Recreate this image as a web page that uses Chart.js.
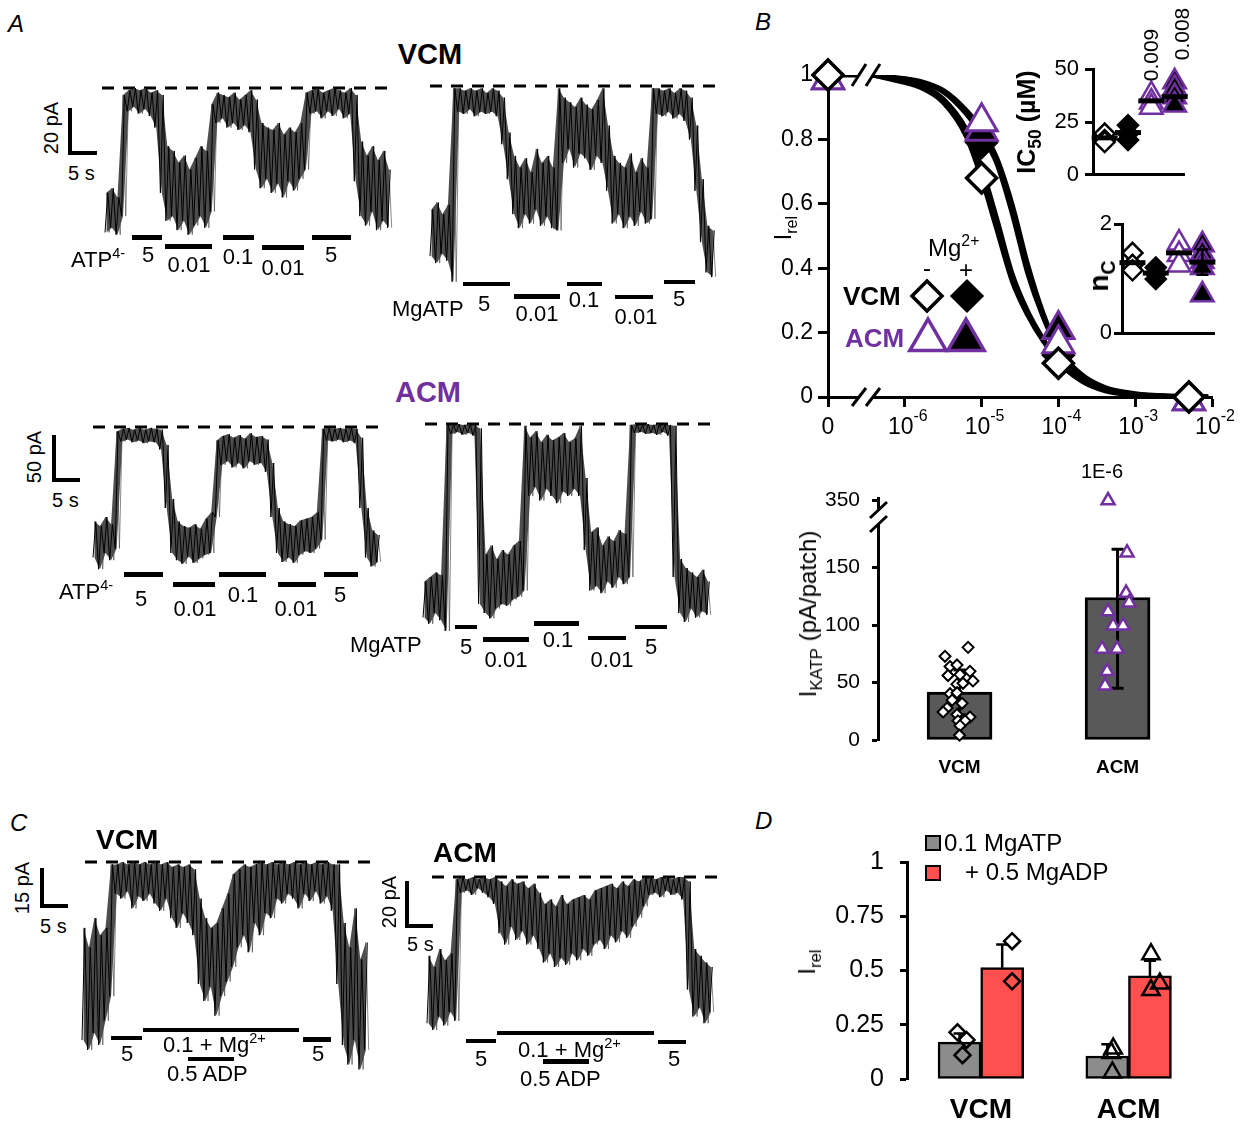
<!DOCTYPE html>
<html>
<head>
<meta charset="utf-8">
<script src="https://cdn.jsdelivr.net/npm/chart.js@4.4.1/dist/chart.umd.min.js"></script>
<style>
  html, body { margin: 0; padding: 0; background: #fff; }
  #fig { position: relative; width: 1250px; height: 1124px; overflow: hidden;
         font-family: "Liberation Sans", Arial, sans-serif; color: #000; }
  #fig canvas { position: absolute; }
  .lbl { position: absolute; line-height: 1; white-space: nowrap; }
  .bar { position: absolute; background: #000; }
  .sup { font-size: .66em; position: relative; top: -.62em; }
  .sub { font-size: .7em; position: relative; top: .35em; }
</style>
</head>
<body>
<div id="fig"></div>
<script>
// ---------------- data ----------------
// Current traces (panels A and C): lower / upper edge of the noise band, pA, one value per 1 s bin
const vcmAtpLo = [3,5,2,10,55,57,54,56,53,48,20,8,10,4,8,2,6,10,5,12,50,52,48,50,47,49,46,30,22,26,20,24,18,25,21,26,30,54,55,52,55,53,56,52,54,25,10,6,12,4,8,5];
const vcmAtpHi = [20,22,18,62,64,65,64,65,63,64,62,40,38,33,36,30,35,40,38,58,63,62,61,63,60,62,64,60,50,48,47,50,45,48,46,50,63,64,65,63,64,65,64,63,65,62,42,36,40,34,38,30];
const vcmAtpOpen = 65;

const vcmMgAtpLo = [2,-1,3,0,-9,64,63,65,62,64,63,64,62,50,35,20,14,20,16,22,15,19,14,13,42,48,40,46,44,39,45,42,30,16,20,14,19,15,21,16,18,63,62,64,61,63,60,52,30,8,-5,-7];
const vcmMgAtpHi = [22,25,20,24,74,74,73,74,73,74,72,74,73,70,55,45,40,44,38,48,42,45,40,74,70,68,66,70,67,65,69,74,58,45,42,40,46,38,44,40,74,74,73,74,72,74,73,70,58,35,15,13];
const vcmMgAtpOpen = 75;

const acmAtpLo = [5,-8,10,2,15,134,136,133,135,132,134,133,125,60,10,2,-2,6,-1,4,8,10,50,108,112,105,110,104,112,108,110,100,50,10,0,5,-1,8,12,10,15,25,135,134,136,133,135,132,60,5,-5,0];
const acmAtpHi = [45,40,50,42,145,148,149,147,149,147,149,148,147,130,70,45,40,38,42,37,48,55,135,140,142,138,141,137,143,139,140,136,110,60,45,42,40,46,48,50,55,148,149,148,149,148,149,148,138,60,35,30];
const acmAtpOpen = 150;

const acmMgAtpLo = [15,8,20,12,0,219,221,218,220,217,30,20,14,25,30,28,35,38,45,150,160,145,158,150,142,155,150,158,150,90,45,50,42,55,48,60,52,60,220,221,219,220,218,221,217,60,20,10,25,15,22,18];
const acmMgAtpHi = [55,60,65,62,229,229,230,229,230,229,225,85,95,80,90,85,95,100,228,215,222,210,218,212,215,220,210,214,228,170,110,115,95,105,100,112,108,229,230,229,230,229,230,229,229,228,80,70,65,60,68,55];
const acmMgAtpOpen = 230;

const vcmAdpLo = [12,8,15,10,20,30,72,70,73,66,71,69,72,68,65,70,62,58,64,60,55,35,28,34,22,30,36,42,50,55,48,60,55,64,62,70,68,72,70,66,72,69,73,68,71,65,35,10,2,12,0,8];
const vcmAdpHi = [58,50,62,55,58,84,84,85,84,85,84,85,84,85,84,85,83,84,83,84,82,70,62,58,60,66,72,80,82,84,83,84,85,84,85,84,85,84,85,84,85,84,85,84,85,84,84,60,50,66,45,52];
const vcmAdpOpen = 85;

const acmAdpLo = [5,2,8,4,10,6,63,64,62,65,63,61,58,45,40,48,42,46,40,44,38,32,36,30,34,31,36,33,38,35,40,42,38,44,41,46,43,48,52,57,62,63,61,64,62,63,60,20,8,12,5,10];
const acmAdpHi = [35,30,38,33,36,69,70,69,70,69,70,69,70,68,66,69,67,68,65,67,63,58,60,57,62,58,60,61,62,60,64,65,66,67,65,68,66,69,68,70,70,69,70,70,69,70,70,68,38,35,32,30];
const acmAdpOpen = 70;

// Panel B: ATP concentration-response (M, 0 = control)
const atpConc = [0, 1e-5, 1e-4, 5e-3];
const irelVcmMinus = [1, 0.68, 0.105, 0];
const irelVcmPlus  = [1, 0.79, 0.13, 0];
const irelAcmMinus = [0.985, 0.855, 0.165, -0.012];
const irelAcmPlus  = [0.985, 0.825, 0.21, -0.012];
// fitted curves (log10 [ATP])
const fitLogConc   = [-6.41, -6.2, -5.8, -5.5, -5.2, -5.0, -4.8, -4.6, -4.4, -4.2, -4.0, -3.7, -3.4, -3.0, -2.5, -2.05];
const fitVcmMinus  = [1.0, 0.988, 0.962, 0.915, 0.81, 0.68, 0.52, 0.36, 0.255, 0.175, 0.115, 0.055, 0.025, 0.008, 0.002, 0];
const fitVcmPlus   = [1.0, 0.99, 0.968, 0.925, 0.83, 0.71, 0.55, 0.38, 0.265, 0.18, 0.11, 0.05, 0.02, 0.006, 0.001, 0];
const fitAcmMinus  = [1.0, 0.993, 0.978, 0.948, 0.88, 0.815, 0.725, 0.57, 0.385, 0.25, 0.15, 0.07, 0.03, 0.01, 0.002, 0];
const fitAcmPlus   = [1.0, 0.994, 0.98, 0.952, 0.89, 0.83, 0.74, 0.595, 0.41, 0.26, 0.15, 0.065, 0.026, 0.008, 0.001, 0];

// Panel B insets: IC50 (uM) and nC, groups VCM-, VCM+, ACM-, ACM+
const ic50VcmMinus = [19.5, 16.5, 15.5];
const ic50VcmPlus  = [23.5, 19.5, 16.5];
const ic50AcmMinus = [38, 34.5, 32];
const ic50AcmPlus  = [44, 41, 37, 33];
const ic50Mean     = [17.5, 20, 35, 37];
const ic50P        = ['', '', '0.009', '0.008'];
const ncVcmMinus = [1.47, 1.25, 1.15];
const ncVcmPlus  = [1.2, 1.09, 0.99];
const ncAcmMinus = [1.65, 1.44, 1.25];
const ncAcmPlus  = [1.62, 1.47, 1.31, 1.2, 0.70];
const ncMean     = [1.29, 1.1, 1.47, 1.3];
const ncSem      = [0, 0, 0, 0.23];

// Panel B lower: KATP current density (pA/patch)
const ikatpVcm  = [80.6,72.8,63.9,65.3,59.7,56.1,56.9,51.4,48.6,49.4,40.3,41.1,31.9,27.8,24.4,22.2,20,16.7,16.7,12.5,4.2,34.7];
const ikatpAcm  = [350,163,127.8,119.4,111.7,99.4,99.4,79.2,79.2,59.7,47.2];
const ikatpMean = [41.7, 124];
const ikatpLow  = [22, 45];
const ikatpHigh = [61, 166];

// Panel D: Irel with 0.1 MgATP and + 0.5 MgADP
const groups     = ['VCM', 'ACM'];
const irelMgAtp  = [0.17, 0.106];
const irelMgAdp  = [0.513, 0.475];
const errMgAtp   = [0.04, 0.054];
const errMgAdp   = [0.107, 0.07];
const dVcmAtpPts = [0.215, 0.18, 0.11];
const dVcmAdpPts = [0.635, 0.45];
const dAcmAtpPts = [0.14, 0.12, 0.03];
const dAcmAdpPts = [0.575, 0.41, 0.44];

// ---------------- layout helpers ----------------
const PURPLE = '#7030a0';
const FONT = '"Liberation Sans", Arial, sans-serif';
Chart.defaults.font.family = FONT;
Chart.defaults.color = '#000';

const fig = document.getElementById('fig');

function canvasAt(L, T, W, H) {
  const c = document.createElement('canvas');
  c.width = W; c.height = H;
  c.style.left = L + 'px'; c.style.top = T + 'px';
  c.style.width = W + 'px'; c.style.height = H + 'px';
  fig.appendChild(c);
  return c;
}

function txt(html, x, base, size, o) {
  o = o || {};
  const d = document.createElement('div');
  d.className = 'lbl';
  d.innerHTML = html;
  d.style.fontSize = size + 'px';
  d.style.left = x + 'px';
  d.style.top = (base - 0.85 * size) + 'px';
  if (o.bold) d.style.fontWeight = 'bold';
  if (o.italic) d.style.fontStyle = 'italic';
  if (o.color) d.style.color = o.color;
  if (o.align === 'center') d.style.transform = 'translateX(-50%)';
  if (o.align === 'right') d.style.transform = 'translateX(-100%)';
  fig.appendChild(d);
}

function vtxt(html, cx, cy, size, o) {
  o = o || {};
  const d = document.createElement('div');
  d.className = 'lbl';
  d.innerHTML = html;
  d.style.fontSize = size + 'px';
  d.style.left = cx + 'px';
  d.style.top = cy + 'px';
  d.style.transform = 'translate(-50%,-50%) rotate(-90deg)';
  if (o.bold) d.style.fontWeight = 'bold';
  fig.appendChild(d);
}

function rect(x1, y1, x2, y2) {
  const d = document.createElement('div');
  d.className = 'bar';
  d.style.left = x1 + 'px'; d.style.top = y1 + 'px';
  d.style.width = (x2 - x1) + 'px'; d.style.height = (y2 - y1) + 'px';
  fig.appendChild(d);
}

const base = {
  responsive: false, animation: false, devicePixelRatio: 1, events: [],
  plugins: { legend: { display: false }, tooltip: { enabled: false } }
};

function sym(ctx, style, r, x, y, fill, stroke, lw) {
  ctx.save();
  ctx.fillStyle = fill; ctx.strokeStyle = stroke; ctx.lineWidth = lw;
  Chart.helpers.drawPoint(ctx, { pointStyle: style, radius: r, borderWidth: lw, rotation: 0 }, x, y);
  ctx.restore();
}

const dec = n => v => String(Math.round(v * n) / n);

// ---------------- current traces ----------------
function traceChart(lo, hi, open, lay) {
  const cv = canvasAt(lay.L, lay.T, lay.W, lay.H);
  const zig = [], zag = [], loLine = [], hiLine = [];
  lo.forEach((v, i) => {
    zig.push({ x: i, y: v }, { x: i + 0.5, y: hi[i] });
    zag.push({ x: i + 0.25, y: hi[i] }, { x: i + 0.75, y: v });
    loLine.push({ x: i + 0.25, y: v });
    hiLine.push({ x: i + 0.25, y: hi[i] });
  });
  const s = lay.binPx;
  new Chart(cv, {
    type: 'line',
    data: { datasets: [
      { data: zig, borderColor: '#000', borderWidth: 1, pointRadius: 0, tension: 0 },
      { data: zag, borderColor: 'rgba(70,70,70,0.8)', borderWidth: 0.8, pointRadius: 0, tension: 0 },
      { data: hiLine, borderColor: 'rgba(0,0,0,0)', pointRadius: 0, fill: '+1', backgroundColor: 'rgba(10,10,10,0.72)' },
      { data: loLine, borderColor: 'rgba(0,0,0,0)', pointRadius: 0 },
      { data: [{ x: (lay.d0 - lay.x0) / s, y: open }, { x: (lay.d1 - lay.x0) / s, y: open }],
        borderColor: '#000', borderWidth: 3, borderDash: [12, 9], pointRadius: 0 }
    ]},
    options: Object.assign({}, base, {
      layout: { padding: 0 },
      scales: {
        x: { type: 'linear', display: false, min: (lay.L - lay.x0) / s, max: (lay.L + lay.W - lay.x0) / s },
        y: { display: false, min: open - (lay.T + lay.H - lay.yDash) / lay.k, max: open + (lay.yDash - lay.T) / lay.k }
      }
    })
  });
}

traceChart(vcmAtpLo, vcmAtpHi, vcmAtpOpen,       { x0: 105, binPx: 5.54, yDash: 88,  k: 2.33, L: 98,  T: 78,  W: 300, H: 172, d0: 102, d1: 388 });
traceChart(vcmMgAtpLo, vcmMgAtpHi, vcmMgAtpOpen, { x0: 430, binPx: 5.52, yDash: 86,  k: 2.33, L: 425, T: 76,  W: 300, H: 215, d0: 430, d1: 716 });
traceChart(acmAtpLo, acmAtpHi, acmAtpOpen,       { x0: 93,  binPx: 5.56, yDash: 427, k: 0.9,  L: 88,  T: 417, W: 300, H: 165, d0: 93,  d1: 380 });
traceChart(acmMgAtpLo, acmMgAtpHi, acmMgAtpOpen, { x0: 423, binPx: 5.56, yDash: 424, k: 0.9,  L: 418, T: 414, W: 300, H: 225, d0: 425, d1: 710 });
traceChart(vcmAdpLo, vcmAdpHi, vcmAdpOpen,       { x0: 82,  binPx: 5.54, yDash: 862, k: 2.44, L: 77,  T: 852, W: 300, H: 222, d0: 85,  d1: 372 });
traceChart(acmAdpLo, acmAdpHi, acmAdpOpen,       { x0: 427, binPx: 5.54, yDash: 877, k: 2.25, L: 422, T: 867, W: 300, H: 168, d0: 432, d1: 717 });

// solution bars and scale bars
[[132,235,162,240],[165,244,212,249],[223,235,254,240],[262,245,304,250],[312,235,351,240],
 [463,282,510,286],[514,294,560,299],[567,282,602,286],[615,295,653,299],[664,280,695,284],
 [124,572,163,577],[173,582,215,587],[219,572,266,577],[278,582,316,587],[324,572,358,577],
 [455,625,477,629],[483,637,529,642],[534,621,579,626],[588,636,626,640],[635,625,667,629],
 [111,1036,142,1040],[143,1028,299,1032],[303,1037,331,1042],[188,1057,234,1061],
 [466,1039,496,1043],[497,1031,654,1035],[658,1040,686,1044],[543,1059,589,1064],
 [68,108,72,155],[68,151,97,155],[52,435,56,482],[52,478,80,482],
 [40,868,44,908],[40,904,68,908],[405,881,409,928],[405,924,433,928]
].forEach(r => rect(r[0], r[1], r[2], r[3]));

// panel letters and titles
txt('A', 8, 32, 24, { italic: true });
txt('B', 755, 30, 24, { italic: true });
txt('C', 10, 831, 24, { italic: true });
txt('D', 755, 829, 24, { italic: true });
txt('VCM', 430, 65, 29, { bold: true, align: 'center' });
txt('ACM', 428, 403, 29, { bold: true, align: 'center', color: PURPLE });
txt('VCM', 96, 850, 28, { bold: true });
txt('ACM', 433, 863, 28, { bold: true });

// scale bar labels
vtxt('20 pA', 51, 128, 20); txt('5 s', 68, 180, 20);
vtxt('50 pA', 34, 457, 20); txt('5 s', 52, 507, 20);
vtxt('15 pA', 22, 888, 20); txt('5 s', 40, 933, 20);
vtxt('20 pA', 389, 902, 20); txt('5 s', 407, 951, 20);

// solution labels
const s4 = 'ATP<span class="sup">4-</span>';
txt(s4, 71, 268, 22);
txt('5', 148, 263, 22, { align: 'center' }); txt('0.01', 189, 273, 22, { align: 'center' });
txt('0.1', 238, 265, 22, { align: 'center' }); txt('0.01', 283, 276, 22, { align: 'center' });
txt('5', 331, 263, 22, { align: 'center' });
txt('MgATP', 392, 317, 22);
txt('5', 484, 312, 22, { align: 'center' }); txt('0.01', 537, 322, 22, { align: 'center' });
txt('0.1', 584, 308, 22, { align: 'center' }); txt('0.01', 636, 325, 22, { align: 'center' });
txt('5', 679, 307, 22, { align: 'center' });
txt(s4, 59, 600, 22);
txt('5', 141, 607, 22, { align: 'center' }); txt('0.01', 195, 617, 22, { align: 'center' });
txt('0.1', 243, 603, 22, { align: 'center' }); txt('0.01', 296, 617, 22, { align: 'center' });
txt('5', 340, 603, 22, { align: 'center' });
txt('MgATP', 350, 653, 22);
txt('5', 466, 655, 22, { align: 'center' }); txt('0.01', 506, 668, 22, { align: 'center' });
txt('0.1', 558, 648, 22, { align: 'center' }); txt('0.01', 612, 668, 22, { align: 'center' });
txt('5', 651, 655, 22, { align: 'center' });
const mg = '0.1 + Mg<span class="sup">2+</span>';
txt('5', 127, 1062, 22, { align: 'center' }); txt(mg, 163, 1053, 22);
txt('0.5 ADP', 167, 1082, 22); txt('5', 318, 1062, 22, { align: 'center' });
txt('5', 481, 1067, 22, { align: 'center' }); txt(mg, 518, 1058, 22);
txt('0.5 ADP', 520, 1087, 22); txt('5', 674, 1067, 22, { align: 'center' });

// ---------------- panel B: concentration-response ----------------
const bx = c => c === 0 ? -7 : Math.log10(c);
const irelPts = arr => arr.map((v, i) => ({ x: bx(atpConc[i]), y: v }));
const fitPts = arr => fitLogConc.map((x, i) => ({ x: x, y: arr[i] }));
const bBreak = -6.6;
const fitLine = { type: 'line', showLine: true, borderColor: '#000', borderWidth: 5, pointRadius: 0,
                  cubicInterpolationMode: 'monotone', order: 10 };

const B = { L: 766, T: 45, W: 471, H: 397 };
new Chart(canvasAt(B.L, B.T, B.W, B.H), {
  type: 'scatter',
  data: { datasets: [
    { data: irelPts(irelVcmMinus), order: 1, clip: false, pointStyle: 'rectRot', pointRadius: 15,
      pointBorderWidth: 3.5, pointBorderColor: '#000', pointBackgroundColor: '#fff' },
    { data: irelPts(irelAcmMinus), order: 2, clip: false, pointStyle: 'triangle', pointRadius: 18,
      pointBorderWidth: 3, pointBorderColor: PURPLE, pointBackgroundColor: '#fff' },
    { data: irelPts(irelAcmPlus), order: 3, clip: false, pointStyle: 'triangle', pointRadius: 18,
      pointBorderWidth: 3, pointBorderColor: PURPLE, pointBackgroundColor: '#000' },
    { data: irelPts(irelVcmPlus), order: 4, clip: false, pointStyle: 'rectRot', pointRadius: 15,
      pointBorderWidth: 3, pointBorderColor: '#000', pointBackgroundColor: '#000' },
    Object.assign({ data: fitPts(fitVcmMinus) }, fitLine),
    Object.assign({ data: fitPts(fitVcmPlus) }, fitLine),
    Object.assign({ data: fitPts(fitAcmMinus) }, fitLine),
    Object.assign({ data: fitPts(fitAcmPlus) }, fitLine),
    Object.assign({ data: [{ x: bx(atpConc[0]), y: irelVcmMinus[0] }, { x: bBreak, y: irelVcmMinus[0] }] }, fitLine)
  ]},
  options: Object.assign({}, base, {
    layout: { padding: { top: 30, right: 25, left: 0, bottom: 0 } },
    scales: {
      x: { type: 'linear', min: -7, max: -2, afterFit: s => { s.height = 45; },
           ticks: { display: false, stepSize: 1 },
           grid: { drawOnChartArea: false, tickLength: 10, tickWidth: 3, tickColor: '#000' },
           border: { color: '#000', width: 3 } },
      y: { min: 0, max: 1, afterFit: s => { s.width = 62; },
           ticks: { stepSize: 0.2, font: { size: 23 }, padding: 5, color: '#000', callback: dec(10) },
           grid: { drawOnChartArea: false, tickLength: 10, tickWidth: 3, tickColor: '#000' },
           border: { color: '#000', width: 3 } }
    }
  }),
  plugins: [{
    id: 'bDecor',
    afterDraw(chart) {
      const ctx = chart.ctx, xs = chart.scales.x;
      ctx.save();
      ctx.translate(-B.L, -B.T);
      // axis break marks
      ctx.fillStyle = '#fff';
      ctx.fillRect(859, 392, 14, 10);
      ctx.strokeStyle = '#000'; ctx.lineWidth = 3;
      [[852, 406, 866, 388], [866, 406, 880, 388], [852, 86, 866, 64], [866, 86, 880, 64]].forEach(l => {
        ctx.beginPath(); ctx.moveTo(l[0], l[1]); ctx.lineTo(l[2], l[3]); ctx.stroke();
      });
      // x tick labels 0, 10^-6 ... 10^-2
      ctx.fillStyle = '#000';
      ctx.textBaseline = 'alphabetic';
      [-7, -6, -5, -4, -3, -2].forEach(v => {
        const px = xs.getPixelForValue(v) + B.L;
        if (v === -7) {
          ctx.font = '23px ' + FONT; ctx.textAlign = 'center'; ctx.fillText('0', px, 434); return;
        }
        ctx.textAlign = 'left';
        ctx.font = '23px ' + FONT; const w1 = ctx.measureText('10').width;
        ctx.font = '16px ' + FONT; const w2 = ctx.measureText(String(v)).width;
        const x0 = px - (w1 + w2) / 2 + 3;
        ctx.font = '23px ' + FONT; ctx.fillText('10', x0, 434);
        ctx.font = '16px ' + FONT; ctx.fillText(String(v), x0 + w1, 421);
      });
      // legend symbols
      sym(ctx, 'rectRot', 15, 927, 296, '#fff', '#000', 3.5);
      sym(ctx, 'rectRot', 15, 967, 296, '#000', '#000', 3);
      sym(ctx, 'triangle', 21, 928, 340, '#fff', PURPLE, 3.5);
      sym(ctx, 'triangle', 21, 966, 340, '#000', PURPLE, 3.5);
      ctx.restore();
    }
  }]
});

vtxt('I<span class="sub">rel</span>', 783, 228, 23);
txt('Mg<span class="sup">2+</span>', 928, 256, 24);
txt('-', 927, 276, 24, { align: 'center' });
txt('+', 966, 278, 24, { align: 'center' });
txt('VCM', 843, 305, 26, { bold: true });
txt('ACM', 845, 347, 26, { bold: true, color: PURPLE });

// ---------------- panel B insets ----------------
function groupPts(vals, gx) { return vals.map(v => ({ x: gx, y: v })); }
const meanDs = means => ({ data: means.map((m, i) => ({ x: i, y: m })), order: 0, clip: false,
  pointStyle: 'line', pointRadius: 13, pointBorderWidth: 5, pointBorderColor: '#000' });
function insetSets(a, b, c, d, means, rd, rt) {
  return [
    meanDs(means),
    { data: groupPts(a, 0), order: 2, clip: false, pointStyle: 'rectRot', pointRadius: rd,
      pointBorderWidth: 2.5, pointBorderColor: '#000', pointBackgroundColor: '#fff' },
    { data: groupPts(b, 1), order: 2, clip: false, pointStyle: 'rectRot', pointRadius: rd,
      pointBorderWidth: 2.5, pointBorderColor: '#000', pointBackgroundColor: '#000' },
    { data: groupPts(c, 2), order: 2, clip: false, pointStyle: 'triangle', pointRadius: rt,
      pointBorderWidth: 2.5, pointBorderColor: PURPLE, pointBackgroundColor: '#fff' },
    { data: groupPts(d, 3), order: 2, clip: false, pointStyle: 'triangle', pointRadius: rt,
      pointBorderWidth: 2.5, pointBorderColor: PURPLE, pointBackgroundColor: '#000' }
  ];
}
function insetScales(xmin, xmax, ymax, yw, ticks, pad) {
  return {
    x: { type: 'linear', min: xmin, max: xmax, offset: false, afterFit: s => { s.height = 6; },
         ticks: { display: false }, grid: { display: false }, border: { color: '#000', width: 3 } },
    y: { min: 0, max: ymax, afterFit: s => { s.width = yw; },
         afterBuildTicks: s => { s.ticks = ticks.map(v => ({ value: v })); },
         ticks: { font: { size: 22 }, padding: pad, color: '#000' },
         grid: { drawOnChartArea: false, tickLength: 8, tickWidth: 3, tickColor: '#000' },
         border: { color: '#000', width: 3 } }
  };
}

new Chart(canvasAt(1048, 50, 154, 144), {
  type: 'scatter',
  data: { datasets: insetSets(ic50VcmMinus, ic50VcmPlus, ic50AcmMinus, ic50AcmPlus, ic50Mean, 10, 13) },
  options: Object.assign({}, base, {
    layout: { padding: { top: 14, right: 12, left: 0, bottom: 0 } },
    scales: insetScales(-0.5, 3.4, 50, 45, [0, 25, 50], 6)
  })
});
vtxt('IC<span class="sub">50</span> (µM)', 1026, 122, 25, { bold: true });
vtxt(ic50P[2], 1150, 55, 21);
vtxt(ic50P[3], 1181, 34, 21);

new Chart(canvasAt(1082, 206, 150, 145), {
  type: 'scatter',
  data: { datasets: insetSets(ncVcmMinus, ncVcmPlus, ncAcmMinus, ncAcmPlus, ncMean, 10, 13) },
  options: Object.assign({}, base, {
    layout: { padding: { top: 14, right: 12, left: 0, bottom: 0 } },
    scales: insetScales(-0.45, 3.5, 2, 40, [0, 2], 2)
  }),
  plugins: [{
    id: 'ncErr',
    beforeDatasetDraw(chart, args) {
      if (args.index !== 0) return;
      const ctx = chart.ctx, xs = chart.scales.x, ys = chart.scales.y;
      ctx.save(); ctx.strokeStyle = '#000'; ctx.lineWidth = 2.5;
      ncMean.forEach((m, i) => {
        if (!ncSem[i]) return;
        const x = xs.getPixelForValue(i), y1 = ys.getPixelForValue(m - ncSem[i]), y2 = ys.getPixelForValue(m + ncSem[i]);
        ctx.beginPath(); ctx.moveTo(x, y1); ctx.lineTo(x, y2);
        ctx.moveTo(x - 6, y1); ctx.lineTo(x + 6, y1); ctx.moveTo(x - 6, y2); ctx.lineTo(x + 6, y2); ctx.stroke();
      });
      ctx.restore();
    }
  }]
});
vtxt('n<span class="sub">C</span>', 1099, 276, 28, { bold: true });

// ---------------- panel B: IKATP ----------------
const ikatpVcmJit = [0.054,-0.092,-0.06,-0.016,0.066,-0.073,0.003,0.085,-0.016,0.022,-0.06,-0.016,0.016,-0.079,-0.104,-0.016,0.066,-0.01,0.035,0.003,0,-0.047];
const ikatpAcmJit = [-0.06,0.06,0.054,0.073,-0.06,-0.028,0.035,-0.098,-0.003,-0.066,-0.079];
const brk = v => v > 180 ? v - 350 + 208.3 : v;   // broken axis: 350 sits just above the break
const IK = { L: 818, T: 474, W: 396, H: 300 };
new Chart(canvasAt(IK.L, IK.T, IK.W, IK.H), {
  type: 'bar',
  data: { datasets: [
    { type: 'bar', data: ikatpMean.map((m, i) => ({ x: i, y: m })), order: 5, barThickness: 65, grouped: false,
      backgroundColor: '#595959', borderColor: '#000', borderWidth: 3, borderSkipped: false },
    { type: 'scatter', data: ikatpVcm.map((v, i) => ({ x: ikatpVcmJit[i], y: brk(v) })), order: 1, clip: false,
      pointStyle: 'rectRot', pointRadius: 5.5, pointBorderWidth: 2, pointBorderColor: '#000', pointBackgroundColor: '#fff' },
    { type: 'scatter', data: ikatpAcm.map((v, i) => ({ x: 1 + ikatpAcmJit[i], y: brk(v) })), order: 1, clip: false,
      pointStyle: 'triangle', pointRadius: 7.5, pointBorderWidth: 2.5, pointBorderColor: PURPLE, pointBackgroundColor: '#fff' }
  ]},
  options: Object.assign({}, base, {
    layout: { padding: { top: 14, right: 10, left: 0, bottom: 0 } },
    scales: {
      x: { type: 'linear', min: -0.516, max: 1.547, offset: false, afterFit: s => { s.height = 34; },
           afterBuildTicks: s => { s.ticks = [{ value: 0 }, { value: 1 }]; },
           ticks: { callback: v => groups[v], font: { size: 19, weight: 'bold' }, padding: 8, color: '#000' },
           grid: { display: false, offset: false }, border: { display: false } },
      y: { min: 0, max: 210, afterFit: s => { s.width = 60; },
           afterBuildTicks: s => { s.ticks = [0, 50, 100, 150, 208.3].map(v => ({ value: v })); },
           ticks: { callback: v => v > 200 ? '350' : String(v), font: { size: 21 }, padding: 12, color: '#000' },
           grid: { drawOnChartArea: false, tickLength: 6, tickWidth: 3, tickColor: '#000' },
           border: { color: '#000', width: 3 } }
    }
  }),
  plugins: [{
    id: 'ikErr',
    afterDatasetDraw(chart, args) {
      if (args.index !== 0) return;
      const ctx = chart.ctx, ys = chart.scales.y;
      ctx.save(); ctx.strokeStyle = '#000'; ctx.lineWidth = 3;
      args.meta.data.forEach((b, i) => {
        const y1 = ys.getPixelForValue(ikatpLow[i]), y2 = ys.getPixelForValue(ikatpHigh[i]);
        ctx.beginPath(); ctx.moveTo(b.x, y1); ctx.lineTo(b.x, y2);
        ctx.moveTo(b.x - 6, y1); ctx.lineTo(b.x + 6, y1); ctx.moveTo(b.x - 6, y2); ctx.lineTo(b.x + 6, y2); ctx.stroke();
      });
      ctx.restore();
    },
    afterDraw(chart) {
      const ctx = chart.ctx;
      ctx.save(); ctx.translate(-IK.L, -IK.T);
      ctx.fillStyle = '#fff'; ctx.fillRect(874, 509, 8, 15);
      ctx.strokeStyle = '#000'; ctx.lineWidth = 3;
      [[870, 518, 887, 502], [870, 532, 887, 516]].forEach(l => {
        ctx.beginPath(); ctx.moveTo(l[0], l[1]); ctx.lineTo(l[2], l[3]); ctx.stroke();
      });
      ctx.restore();
    }
  }]
});
vtxt('I<span class="sub">KATP</span> (pA/patch)', 808, 614, 24);
txt('1E-6', 1102, 478, 20, { align: 'center' });

// ---------------- panel D ----------------
const dHalf = 21.5 / 149;                      // half a bar, in group units
const dGrayJit = [-0.014, 0.047, 0.02];
const dRedJit = [0.067, 0.067];
const dAcmGrayJit = [0.04, 0.027, 0.034];
const dAcmRedJit = [0.007, 0.007, 0.067];
const dMark = (vals, gx, jit, style, r) => ({
  type: 'scatter', order: 1, clip: false,
  data: vals.map((v, i) => ({ x: gx + jit[i], y: v })),
  pointStyle: style, pointRadius: r, pointBorderWidth: 2.5, pointBorderColor: '#000', pointBackgroundColor: 'rgba(0,0,0,0)'
});
const dBar = (vals, side, col, err) => ({
  type: 'bar', order: 5, grouped: false, barThickness: 43, backgroundColor: col, borderColor: '#000',
  borderWidth: 2.5, borderSkipped: false, data: vals.map((v, i) => ({ x: i + side * dHalf, y: v })), err: err, vals: vals
});
new Chart(canvasAt(822, 831, 393, 290), {
  type: 'bar',
  data: { datasets: [
    dBar(irelMgAtp, -1, '#8c8c8c', errMgAtp),
    dBar(irelMgAdp, 1, '#ff5050', errMgAdp),
    dMark(dVcmAtpPts, -dHalf, dGrayJit, 'rectRot', 8),
    dMark(dVcmAdpPts, dHalf, dRedJit, 'rectRot', 8),
    dMark(dAcmAtpPts, 1 - dHalf, dAcmGrayJit, 'triangle', 10),
    dMark(dAcmAdpPts, 1 + dHalf, dAcmRedJit, 'triangle', 10)
  ]},
  options: Object.assign({}, base, {
    layout: { padding: { top: 12, right: 10, left: 0, bottom: 0 } },
    scales: {
      x: { type: 'linear', min: -0.5, max: 1.5, offset: false, afterFit: s => { s.height = 42; },
           afterBuildTicks: s => { s.ticks = [{ value: 0 }, { value: 1 }]; },
           ticks: { callback: v => groups[v], font: { size: 28, weight: 'bold' }, padding: 6, color: '#000' },
           grid: { display: false, offset: false }, border: { display: false } },
      y: { min: 0, max: 1, afterFit: s => { s.width = 85; },
           ticks: { stepSize: 0.25, font: { size: 25 }, padding: 16, color: '#000', callback: dec(100) },
           grid: { drawOnChartArea: false, tickLength: 7, tickWidth: 3, tickColor: '#000' },
           border: { color: '#000', width: 3 } }
    }
  }),
  plugins: [{
    id: 'dErr',
    afterDatasetDraw(chart, args) {
      if (args.index > 1) return;
      const ds = chart.data.datasets[args.index];
      const ctx = chart.ctx, ys = chart.scales.y;
      ctx.save(); ctx.strokeStyle = '#000'; ctx.lineWidth = 2.5;
      args.meta.data.forEach((b, i) => {
        const y1 = ys.getPixelForValue(ds.vals[i]), y2 = ys.getPixelForValue(ds.vals[i] + ds.err[i]);
        ctx.beginPath(); ctx.moveTo(b.x, y1); ctx.lineTo(b.x, y2);
        ctx.moveTo(b.x - 6, y2); ctx.lineTo(b.x + 6, y2); ctx.stroke();
      });
      ctx.restore();
    }
  }]
});
vtxt('I<span class="sub">rel</span>', 807, 962, 24);
// legend D
(function () {
  const sq = (x, y, col) => {
    const d = document.createElement('div');
    d.style.cssText = 'position:absolute;box-sizing:border-box;border:2px solid #000;width:16px;height:16px;left:' + x + 'px;top:' + y + 'px;background:' + col;
    fig.appendChild(d);
  };
  sq(925, 835, '#8c8c8c'); sq(925, 865, '#ff5050');
})();
txt('0.1 MgATP', 944, 851, 24);
txt('+ 0.5 MgADP', 965, 880, 24);
</script>
</body>
</html>
